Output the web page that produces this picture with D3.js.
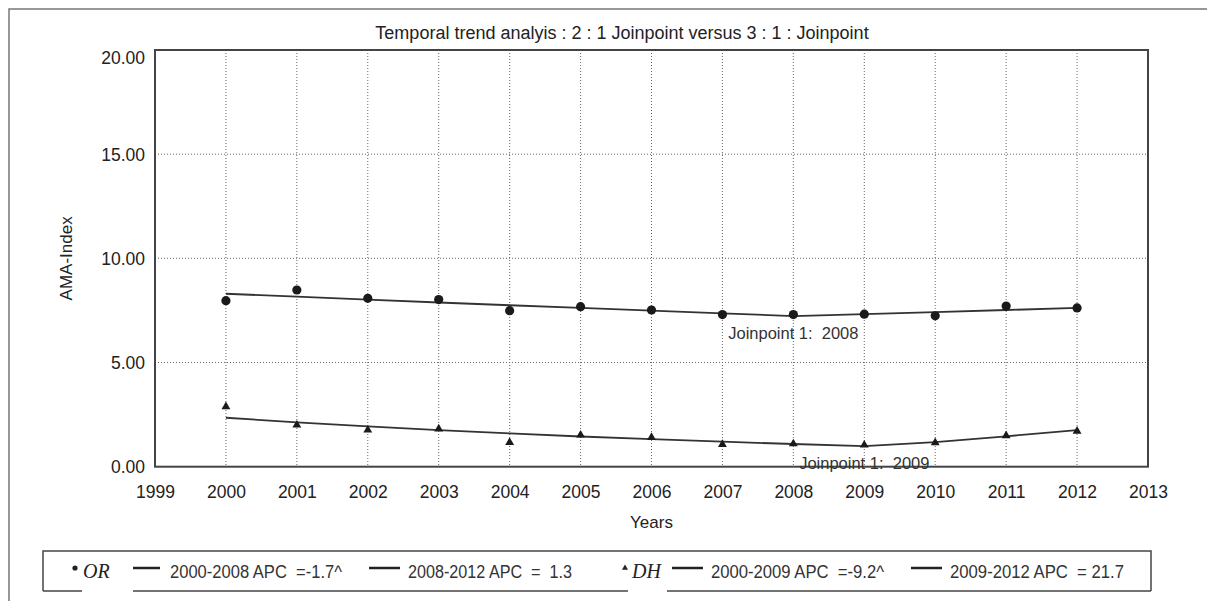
<!DOCTYPE html>
<html>
<head>
<meta charset="utf-8">
<script src="https://cdn.jsdelivr.net/npm/d3@7"></script>
<style>
  body { margin: 0; background: #fff; }
  svg { display: block; font-family: Arial, "Liberation Sans", sans-serif; }
  text.pre { white-space: pre; }
</style>
</head>
<body>
<svg id="chart" width="1207" height="601"></svg>
<script>
// data
const years = [2000, 2001, 2002, 2003, 2004, 2005, 2006, 2007, 2008, 2009, 2010, 2011, 2012];
const orObserved = [7.97, 8.48, 8.08, 8.02, 7.49, 7.68, 7.52, 7.30, 7.30, 7.32, 7.24, 7.71, 7.62];
const orFitted = [8.30, 8.16, 8.02, 7.88, 7.75, 7.62, 7.49, 7.36, 7.23, 7.32, 7.42, 7.52, 7.62];
const dhObserved = [2.88, 2.00, 1.76, 1.81, 1.17, 1.52, 1.41, 1.07, 1.10, 1.04, 1.15, 1.49, 1.71];
const dhFitted = [2.35, 2.13, 1.94, 1.76, 1.60, 1.45, 1.32, 1.20, 1.09, 0.99, 1.18, 1.46, 1.76];
const xTicks = [1999, 2000, 2001, 2002, 2003, 2004, 2005, 2006, 2007, 2008, 2009, 2010, 2011, 2012, 2013];
const yTicks = [0, 5, 10, 15, 20];
const joinpoints = [
    { year: 2008, value: 7.23, label: 'Joinpoint 1:  2008' },
    { year: 2009, value: 0.99, label: 'Joinpoint 1:  2009' }
];
const legendOR = ['2000-2008 APC  =-1.7^', '2008-2012 APC  =  1.3'];
const legendDH = ['2000-2009 APC  =-9.2^', '2009-2012 APC  = 21.7'];

const svg = d3.select('#chart');
const plot = { left: 155, right: 1148, top: 50, bottom: 466.7 };

const x = d3.scaleLinear().domain([1999, 2013]).range([plot.left, plot.right]);
const y = d3.scaleLinear().domain([0, 20]).range([plot.bottom, plot.top]);

// outer frame (top + left only)
svg.append('path')
    .attr('d', `M9,601 L9,9 L1207,9`)
    .attr('fill', 'none')
    .attr('stroke', '#777')
    .attr('stroke-width', 1.5);

// title
svg.append('text')
    .attr('x', 622).attr('y', 39)
    .attr('text-anchor', 'middle')
    .attr('font-size', 18)
    .attr('fill', '#222')
    .text('Temporal trend analyis : 2 : 1 Joinpoint versus 3 : 1 : Joinpoint');

// grid
const grid = svg.append('g')
    .attr('stroke', '#666')
    .attr('stroke-width', 1)
    .attr('stroke-dasharray', '1,2');
grid.selectAll('line.v')
    .data(years)
    .enter().append('line')
    .attr('x1', d => x(d)).attr('x2', d => x(d))
    .attr('y1', plot.top).attr('y2', plot.bottom);
grid.selectAll('line.h')
    .data(yTicks.filter(d => d > 0 && d < 20))
    .enter().append('line')
    .attr('x1', plot.left).attr('x2', plot.right)
    .attr('y1', d => y(d)).attr('y2', d => y(d));

// plot border
svg.append('rect')
    .attr('x', plot.left).attr('y', plot.top)
    .attr('width', plot.right - plot.left)
    .attr('height', plot.bottom - plot.top)
    .attr('fill', 'none')
    .attr('stroke', '#444')
    .attr('stroke-width', 2);

// axes (labels only)
const yAxis = svg.append('g')
    .attr('transform', `translate(${plot.left},0)`)
    .call(d3.axisLeft(y).tickValues(yTicks).tickFormat(d3.format('.2f')).tickSize(0).tickPadding(10));
yAxis.select('.domain').remove();
yAxis.selectAll('text')
    .attr('font-size', 17.5)
    .attr('font-family', 'Arial, "Liberation Sans", sans-serif')
    .attr('fill', '#222')
    .attr('dy', d => d === 20 ? '0.75em' : '0.35em');

const xAxis = svg.append('g')
    .attr('transform', `translate(0,${plot.bottom})`)
    .call(d3.axisBottom(x).tickValues(xTicks).tickFormat(d3.format('d')).tickSize(0).tickPadding(0));
xAxis.select('.domain').remove();
xAxis.selectAll('text')
    .attr('font-size', 17.5)
    .attr('font-family', 'Arial, "Liberation Sans", sans-serif')
    .attr('fill', '#222')
    .attr('dy', null)
    .attr('y', 31);

// axis titles
svg.append('text')
    .attr('transform', `translate(72,${(plot.top + plot.bottom) / 2}) rotate(-90)`)
    .attr('text-anchor', 'middle')
    .attr('font-size', 17)
    .attr('fill', '#222')
    .text('AMA-Index');
svg.append('text')
    .attr('x', (plot.left + plot.right) / 2).attr('y', 528)
    .attr('text-anchor', 'middle')
    .attr('font-size', 17)
    .attr('fill', '#222')
    .text('Years');

// fitted lines
const line = d3.line().x(d => x(d[0])).y(d => y(d[1]));
[orFitted, dhFitted].forEach(vals => {
    svg.append('path')
        .datum(years.map((yr, i) => [yr, vals[i]]))
        .attr('d', line)
        .attr('fill', 'none')
        .attr('stroke', '#333')
        .attr('stroke-width', 1.8);
});

// observed points
svg.append('g').selectAll('circle')
    .data(years.map((yr, i) => [yr, orObserved[i]]))
    .enter().append('circle')
    .attr('cx', d => x(d[0]))
    .attr('cy', d => y(d[1]))
    .attr('r', 4.6)
    .attr('fill', '#1a1a1a');

const tri = d3.symbol().type(d3.symbolTriangle).size(34);
svg.append('g').selectAll('path')
    .data(years.map((yr, i) => [yr, dhObserved[i]]))
    .enter().append('path')
    .attr('d', tri)
    .attr('transform', d => `translate(${x(d[0])},${y(d[1])})`)
    .attr('fill', '#1a1a1a');

// joinpoint labels
svg.append('g').selectAll('text')
    .data(joinpoints)
    .enter().append('text')
    .attr('class', 'pre')
    .attr('x', d => x(d.year))
    .attr('y', d => y(d.value) + 22.5)
    .attr('text-anchor', 'middle')
    .attr('font-size', 16.5)
    .attr('fill', '#333')
    .text(d => d.label);

// legend
const lg = svg.append('g');
const lgTop = 551, lgBottom = 591, lgLeft = 43, lgRight = 1151, lgY = 568, lgBase = 578;
lg.append('path')
    .attr('d', `M${lgLeft},${lgBottom} L${lgLeft},${lgTop} L${lgRight},${lgTop} L${lgRight},${lgBottom}`)
    .attr('fill', 'none').attr('stroke', '#444').attr('stroke-width', 1.5);
[[lgLeft, 82], [133, 628], [667, lgRight]].forEach(s => {
    lg.append('line')
        .attr('x1', s[0]).attr('x2', s[1])
        .attr('y1', lgBottom).attr('y2', lgBottom)
        .attr('stroke', '#444').attr('stroke-width', 1.5);
});

lg.append('circle').attr('cx', 75).attr('cy', lgY).attr('r', 2.6).attr('fill', '#222');
lg.append('text').attr('x', 83).attr('y', lgBase)
    .attr('font-family', '"Liberation Serif", "Times New Roman", serif')
    .attr('font-style', 'italic').attr('font-size', 20).attr('fill', '#222').text('OR');
lg.append('path').attr('d', d3.symbol().type(d3.symbolTriangle).size(16)())
    .attr('transform', `translate(625,${lgY})`).attr('fill', '#222');
lg.append('text').attr('x', 632).attr('y', lgBase)
    .attr('font-family', '"Liberation Serif", "Times New Roman", serif')
    .attr('font-style', 'italic').attr('font-size', 20).attr('fill', '#222').text('DH');

const legendItems = [
    { x0: 133, x1: 160, tx: 170, w: 172, label: legendOR[0] },
    { x0: 369, x1: 400, tx: 408, w: 164, label: legendOR[1] },
    { x0: 672, x1: 703, tx: 711, w: 173, label: legendDH[0] },
    { x0: 911, x1: 942, tx: 950, w: 174, label: legendDH[1] }
];
legendItems.forEach(it => {
    lg.append('line')
        .attr('x1', it.x0).attr('x2', it.x1)
        .attr('y1', lgY).attr('y2', lgY)
        .attr('stroke', '#222').attr('stroke-width', 2.5);
    lg.append('text')
        .attr('class', 'pre')
        .attr('x', it.tx).attr('y', lgBase)
        .attr('font-size', 18).attr('fill', '#333')
        .attr('textLength', it.w)
        .attr('lengthAdjust', 'spacingAndGlyphs')
        .text(it.label);
});
</script>
</body>
</html>
